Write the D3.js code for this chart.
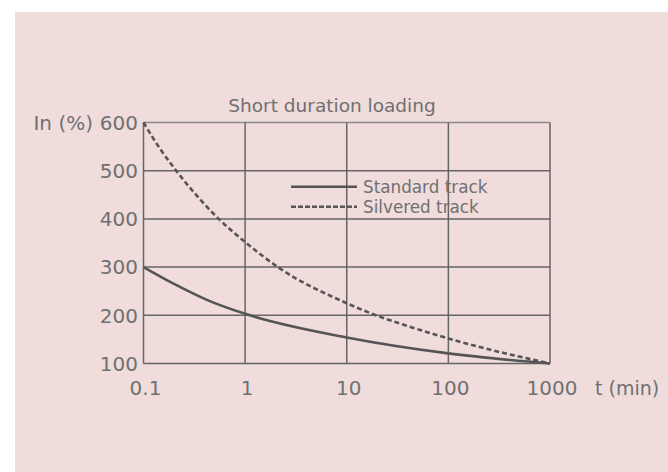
<!DOCTYPE html>
<html>
<head>
<meta charset="utf-8">
<title>Short duration loading</title>
<style>
body{ margin:0; background:#fff; }
text{ font-family: "DejaVu Sans", sans-serif; fill:#707070; }
.grid line{ stroke:#666; stroke-width:1.5px; }
.curve{ fill:none; stroke:#555; stroke-width:2.6px; }
</style>
</head>
<body>
<script src="https://cdn.jsdelivr.net/npm/d3@7/dist/d3.min.js"></script>
<script>

var width = 668;
var height = 472;

// data
var xTicks = [0.1, 1, 10, 100, 1000];
var xTickLabels = ["0.1", "1", "10", "100", "1000"];
var yTicks = [100, 200, 300, 400, 500, 600];

var standardT = [0.1, 0.2, 0.42, 1, 10, 100, 1000];
var standardV = [300, 265, 232, 203, 154, 121, 100];

var silveredT = [0.1, 0.145, 0.21, 0.55, 1, 2.1, 10, 100, 1000];
var silveredV = [600, 546, 500, 400, 352, 300, 225, 152, 100];

var seriesNames = ["Standard track", "Silvered track"];

var plot = {left:143.5, right:550, top:122.5, bottom:363.5};

var svg = d3.select("body").append("svg")
			.attr("width",width)
			.attr("height",height);

// pink panel
svg.append("rect")
	.attr("x",15).attr("y",12)
	.attr("width",width-15).attr("height",height-12)
	.attr("fill","#efdcdb");

var x = d3.scaleLog().domain([0.1,1000]).range([plot.left,plot.right]);
var y = d3.scaleLinear().domain([100,600]).range([plot.bottom,plot.top]);

var grid = svg.append("g").attr("class","grid");

grid.selectAll(".hl").data(yTicks).enter().append("line")
	.attr("x1",plot.left).attr("x2",plot.right)
	.attr("y1",function(d){ return y(d); })
	.attr("y2",function(d){ return y(d); })
	.style("stroke",function(d){ return d==600 ? "#8a8a8a" : null; });

grid.selectAll(".vl").data(xTicks).enter().append("line")
	.attr("x1",function(d){ return x(d); })
	.attr("x2",function(d){ return x(d); })
	.attr("y1",plot.top).attr("y2",plot.bottom);

// y labels
svg.selectAll(".ylab").data(yTicks).enter().append("text")
	.attr("x",138)
	.attr("y",function(d){ return y(d); })
	.attr("dy","0.36em")
	.attr("text-anchor","end")
	.style("font-size","20px")
	.text(function(d){ return d; });

svg.append("text")
	.attr("x",93).attr("y",y(600))
	.attr("dy","0.36em")
	.attr("text-anchor","end")
	.style("font-size","20px")
	.text("In (%)");

// x labels
svg.selectAll(".xlab").data(xTicks).enter().append("text")
	.attr("x",function(d){ return x(d) + 2; })
	.attr("y",395)
	.attr("text-anchor","middle")
	.style("font-size","20px")
	.text(function(d,i){ return xTickLabels[i]; });

svg.append("text")
	.attr("x",595).attr("y",395)
	.style("font-size","19px")
	.text("t (min)");

// title
svg.append("text")
	.attr("x",332).attr("y",111.5)
	.attr("text-anchor","middle")
	.style("font-size","18.5px")
	.text("Short duration loading");

// curves
var line = d3.line()
	.x(function(d){ return x(d[0]); })
	.y(function(d){ return y(d[1]); })
	.curve(d3.curveMonotoneX);

svg.append("path")
	.attr("class","curve")
	.attr("d",line(d3.zip(standardT,standardV)));

svg.append("path")
	.attr("class","curve")
	.attr("stroke-dasharray","5,3")
	.attr("d",line(d3.zip(silveredT,silveredV)));

// legend
var legend = svg.selectAll(".leg").data(seriesNames).enter().append("g")
	.attr("transform",function(d,i){ return "translate(291," + (186.7 + i*20) + ")"; });

legend.append("line")
	.attr("class","curve")
	.attr("x1",0).attr("x2",66)
	.attr("y1",0).attr("y2",0)
	.attr("stroke-dasharray",function(d,i){ return i==1 ? "5,2" : null; });

legend.append("text")
	.attr("x",72).attr("y",0)
	.attr("dy","0.36em")
	.style("font-size","16.8px")
	.text(function(d){ return d; });

</script>
</body>
</html>
